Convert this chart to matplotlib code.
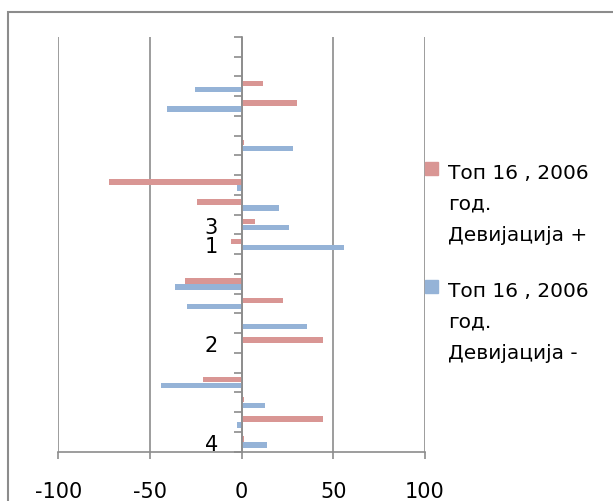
import matplotlib
matplotlib.use("Agg")
import matplotlib.pyplot as plt
from matplotlib.patches import Rectangle
import numpy as np

# ── data (top to bottom) ──────────────────────────────────────────────────────
category_labels = ["", "", "", "", "", "", "", "", "", "3",
                   "1", "", "", "", "", "2", "", "", "", "",
                   "4"]
dev_plus = [0, 0, 11.5, 30, 0, 1.4, 0, -72.2, -24.5, 7.3,
            -5.8, 0, -31, 22.4, 0, 44.2, 0, -21, 1.4, 44.2,
            1.4]
dev_minus = [0, 0, -25.5, -40.8, 0, 27.8, 0, -2.7, 20.2, 25.6,
             56, 0, -36.4, -29.8, 35.5, 0, 0, -44, 12.7, -2.7,
             13.6]
series_names = [["Топ 16 , 2006", "год.", "Девијација +"],
                ["Топ 16 , 2006", "год.", "Девијација -"]]
x_ticks = [-100, -50, 0, 50, 100]

RED = "#D99694"
BLUE = "#95B3D7"
GRID = "#8C8C8C"

W, H = 613, 502
plt.rcParams["font.family"] = ["DejaVu Sans"]

fig = plt.figure(figsize=(W / 100, H / 100), dpi=100)
ax = fig.add_axes([58.3 / W, 1 - 452.7 / H, (425 - 58.3) / W, (452.7 - 38) / H])

y = np.arange(len(category_labels))
bh = 0.28
ax.barh(y - 0.15, dev_plus, height=bh, color=RED, zorder=3)
ax.barh(y + 0.15, dev_minus, height=bh, color=BLUE, zorder=3)

ax.set_xlim(-100, 100)
ax.set_ylim(len(category_labels) - 0.5, -0.5)
ax.set_xticks(x_ticks)
ax.set_xticklabels([str(v) for v in x_ticks])
ax.grid(axis="x", color=GRID, linewidth=1.2, zorder=0)

# y axis sits at x = 0
ax.spines["left"].set_position(("data", 0))
ax.spines["left"].set_zorder(4)
for s in ["top", "right"]:
    ax.spines[s].set_visible(False)
for s in ["left", "bottom"]:
    ax.spines[s].set_color(GRID)
    ax.spines[s].set_linewidth(1.2)

ax.set_yticks(y)
ax.set_yticklabels(category_labels)
ax.set_yticks(np.arange(len(category_labels) + 1) - 0.5, minor=True)
ax.tick_params(axis="y", which="major", length=0, pad=17, labelsize=15)
ax.tick_params(axis="y", which="minor", length=6, width=1.2, color=GRID)
ax.tick_params(axis="x", length=5, width=1.2, color=GRID, pad=16, labelsize=15)

# manual legend, marker aligned with first line
base = [179, 297]
for i, (lines, col) in enumerate(zip(series_names, [RED, BLUE])):
    fig.patches.append(Rectangle((425 / W, 1 - (base[i] - 3) / H), 13 / W, 13 / H,
                                 transform=fig.transFigure, color=col, zorder=5))
    for j, line in enumerate(lines):
        fig.text(448 / W, 1 - (base[i] + 31 * j) / H, line, fontsize=14.5,
                 va="baseline", ha="left")

# chart frame
fig.patches.append(Rectangle((8 / W, -0.1), 1.1, 1 - 13 / H + 0.1,
                             transform=fig.transFigure, fill=False,
                             edgecolor=GRID, linewidth=1.5))

fig.savefig("out.png", dpi=100)
